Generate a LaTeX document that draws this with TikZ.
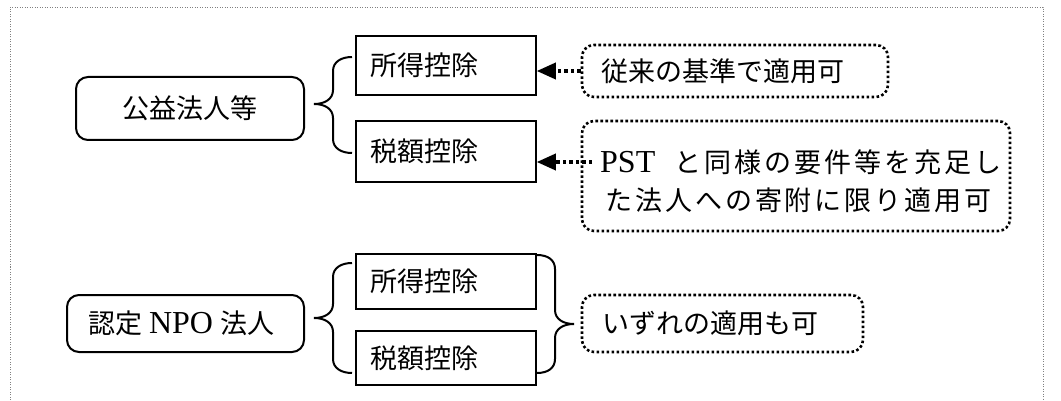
\documentclass[tikz,border=0pt]{standalone}
\usepackage{fontspec}
\setmainfont{Liberation Serif}
\newfontfamily\jp{Noto Sans CJK JP}
\newfontfamily\jpsp{Noto Sans CJK JP}[LetterSpace=11]
\newcommand{\lat}[1]{{\rmfamily\fontsize{32}{38}\selectfont #1}}
\usetikzlibrary{arrows.meta}
\tikzset{
  txt/.style={font=\fontsize{27}{38}\selectfont\jp},
  rbox/.style={draw, line width=1.5pt, inner xsep=14pt, inner ysep=0pt, text width=152pt, align=left, txt},
  obox/.style={draw, line width=2pt, rounded corners=12pt, inner sep=0pt, txt},
  dbox/.style={draw, line width=2.6pt, dash pattern=on 2.6pt off 2.4pt, rounded corners=12pt, inner ysep=0pt, align=left, txt},
  darrow/.style={line width=3.5pt, dash pattern=on 3.5pt off 3pt, -{Triangle[length=19pt,width=16pt]}},
  bracestyle/.style={line width=2pt},
  frame/.style={line width=0.8pt, gray, dash pattern=on 1pt off 1.5pt}
}
\begin{document}
\begin{tikzpicture}[x=1pt,y=-1pt]
\useasboundingbox (0,0) rectangle (1061,401);
\fill[white] (0,0) rectangle (1061,401);
% outer frame
\draw[frame] (10,410) -- (10,7) -- (1043,7) -- (1043,410);

% upper group
\node[obox, minimum width=228pt, minimum height=63pt] (koueki) at (190,108.5) {公益法人等};
\node[rbox, minimum height=59pt] (shotoku1) at (446,65.5) {所得控除};
\node[rbox, minimum height=61pt] (zeigaku1) at (446,151.5) {税額控除};
\node[dbox, minimum height=52pt, inner xsep=19pt, text width=268pt] (jurai) at (735,71) {従来の基準で適用可};
\node[dbox, minimum width=428pt, minimum height=110pt] (pst) at (796,176) {};
\node[anchor=west, inner sep=0pt, txt] (pstA) at (600,162) {\lat{PST}\hspace{19pt}\jpsp と同様の要件等を充足し};
\node[anchor=west, inner sep=0pt, txt] (pstB) at (605,200) {\jpsp た法人への寄附に限り適用可};

\draw[bracestyle] (352,57) .. controls (341,57) and (333,62) .. (333,71) -- (333,90)
  .. controls (333,99) and (325,104) .. (314,104)
  .. controls (325,104) and (333,109) .. (333,118) -- (333,139)
  .. controls (333,148) and (341,153) .. (352,153);

\draw[darrow] (jurai.west) -- (jurai.west -| shotoku1.east);
\draw[darrow] ([xshift=-8pt]pstA.west) -- (pstA.west -| zeigaku1.east);

% lower group
\node[obox, minimum width=237pt, minimum height=57pt, text width=213pt, align=left, inner xsep=12pt] (npo) at (185.5,323.5) {\hspace{9pt}認定\hspace{7pt}\lat{NPO}\hspace{7pt}法人};
\node[rbox, minimum height=55pt] (shotoku2) at (446,281.5) {所得控除};
\node[rbox, minimum height=54pt] (zeigaku2) at (446,358) {税額控除};
\node[dbox, minimum height=57pt, inner xsep=20pt, text width=241pt] (izure) at (722.5,323.5) {いずれの適用も可};

\draw[bracestyle] (352,263) .. controls (341,263) and (333,268) .. (333,277) -- (333,304)
  .. controls (333,313) and (325,318) .. (314,318)
  .. controls (325,318) and (333,323) .. (333,332) -- (333,359)
  .. controls (333,368) and (341,373) .. (352,373);

\draw[bracestyle] (537,255) .. controls (548,255) and (555,260) .. (555,269) -- (555,310)
  .. controls (555,319) and (563,324) .. (574,324)
  .. controls (563,324) and (555,329) .. (555,338) -- (555,359)
  .. controls (555,368) and (548,373) .. (537,373);
\end{tikzpicture}
\end{document}
